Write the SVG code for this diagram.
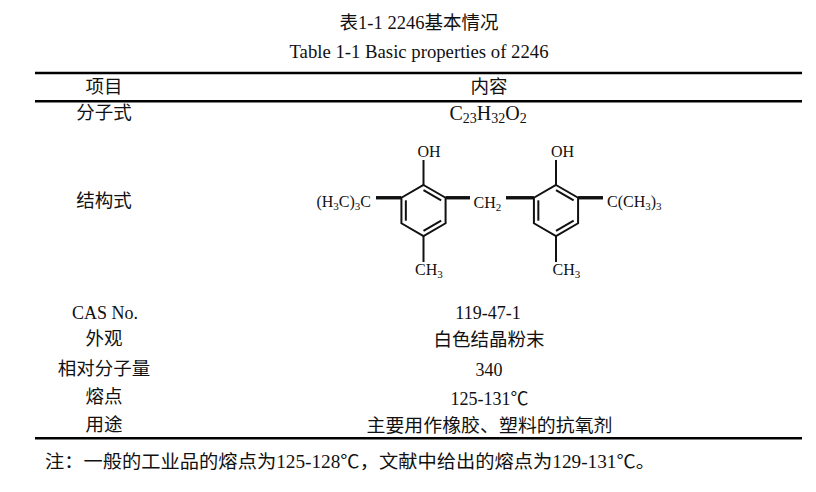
<svg xmlns="http://www.w3.org/2000/svg" width="816" height="492" viewBox="0 0 816 492">
  <style>
    text { font-family: "Liberation Serif", "Noto Sans CJK SC", serif; fill: #111; }
    .t18 { font-size: 18px; }
    .cj { font-size: 18.5px; }
    .mid { text-anchor: middle; }
    .chem { font-size: 16px; }
    .sub { font-size: 11px; }
    .rule { stroke: #000; stroke-width: 2.6; }
    .bond { stroke: #111; stroke-width: 2; fill: none; stroke-linecap: butt; }
    .thick { stroke: #111; stroke-width: 3.4; }
  </style>
  <defs>
    <g id="ring">
      <polygon class="bond" points="0,-25.5 22.08,-12.75 22.08,12.75 0,25.5 -22.08,12.75 -22.08,-12.75"/>
      <line class="bond" x1="0" y1="-20.4" x2="17.66" y2="-10.2"/>
      <line class="bond" x1="17.66" y1="10.2" x2="0" y2="20.4"/>
      <line class="bond" x1="-17.66" y1="10.2" x2="-17.66" y2="-10.2"/>
      <line class="bond" x1="0" y1="-25.5" x2="0" y2="-50.5"/>
      <line class="bond" x1="0" y1="25.5" x2="0" y2="51.5"/>
    </g>
  </defs>

  <rect width="816" height="492" fill="#fff"/>

  <g id="caption">
    <text class="mid" font-size="18.5" x="419" y="28.5">表1-1 2246基本情况</text>
    <text class="mid" font-size="18.5" x="419" y="58" textLength="259" lengthAdjust="spacingAndGlyphs">Table 1-1 Basic properties of 2246</text>
  </g>

  <g id="rules">
    <line class="rule" x1="35" y1="73" x2="802" y2="73"/>
    <line class="rule" x1="35" y1="101.3" x2="802" y2="101.3"/>
    <line class="rule" x1="35" y1="438.3" x2="802" y2="438.3"/>
  </g>

  <g id="header">
    <text class="cj mid" x="104" y="93">项目</text>
    <text class="cj mid" x="489" y="93">内容</text>
  </g>

  <g id="row-formula">
    <text class="cj mid" x="104" y="119">分子式</text>
    <text class="mid" x="488" y="120" font-size="20">C<tspan font-size="14" dy="3">23</tspan><tspan dy="-3">H</tspan><tspan font-size="14" dy="3">32</tspan><tspan dy="-3">O</tspan><tspan font-size="14" dy="3">2</tspan></text>
  </g>

  <g id="row-structure">
    <text class="cj mid" x="104" y="207">结构式</text>
    <g id="structure">
      <use href="#ring" x="423.5" y="210.5"/>
      <use href="#ring" x="556" y="210.5"/>
      <g id="connectors">
        <line class="thick" x1="376" y1="197.75" x2="401.42" y2="197.75"/>
        <line class="thick" x1="445.58" y1="197.75" x2="470" y2="197.75"/>
        <line class="thick" x1="506" y1="197.75" x2="533.92" y2="197.75"/>
        <line class="thick" x1="578.08" y1="197.75" x2="603" y2="197.75"/>
      </g>
      <text class="chem" x="417.5" y="157">OH</text>
      <text class="chem" x="551" y="157">OH</text>
      <text class="chem" x="371" y="207" text-anchor="end">(H<tspan class="sub" dy="3">3</tspan><tspan dy="-3">C)</tspan><tspan class="sub" dy="3">3</tspan><tspan dy="-3">C</tspan></text>
      <text class="chem" x="473.5" y="208">CH<tspan class="sub" dy="3">2</tspan></text>
      <text class="chem" x="607" y="207">C(CH<tspan class="sub" dy="3">3</tspan><tspan dy="-3">)</tspan><tspan class="sub" dy="3">3</tspan></text>
      <text class="chem" x="415" y="275">CH<tspan class="sub" dy="3">3</tspan></text>
      <text class="chem" x="552.5" y="275">CH<tspan class="sub" dy="3">3</tspan></text>
    </g>
  </g>

  <g id="row-cas">
    <text class="t18 mid" x="105" y="319">CAS No.</text>
    <text class="t18 mid" x="488" y="319">119-47-1</text>
  </g>
  <g id="row-appearance">
    <text class="cj mid" x="104" y="345">外观</text>
    <text class="cj mid" x="489" y="346">白色结晶粉末</text>
  </g>
  <g id="row-mw">
    <text class="cj mid" x="104" y="375">相对分子量</text>
    <text class="t18 mid" x="489" y="376">340</text>
  </g>
  <g id="row-mp">
    <text class="cj mid" x="104" y="403">熔点</text>
    <text class="t18 mid" x="489.5" y="404.5">125-131℃</text>
  </g>
  <g id="row-use">
    <text class="cj mid" x="104" y="431">用途</text>
    <text class="cj mid" x="489.5" y="432" textLength="246" lengthAdjust="spacingAndGlyphs">主要用作橡胶、塑料的抗氧剂</text>
  </g>

  <g id="note">
    <text class="cj" x="45" y="468" textLength="610" lengthAdjust="spacingAndGlyphs">注：一般的工业品的熔点为125-128℃，文献中给出的熔点为129-131℃。</text>
  </g>
</svg>
